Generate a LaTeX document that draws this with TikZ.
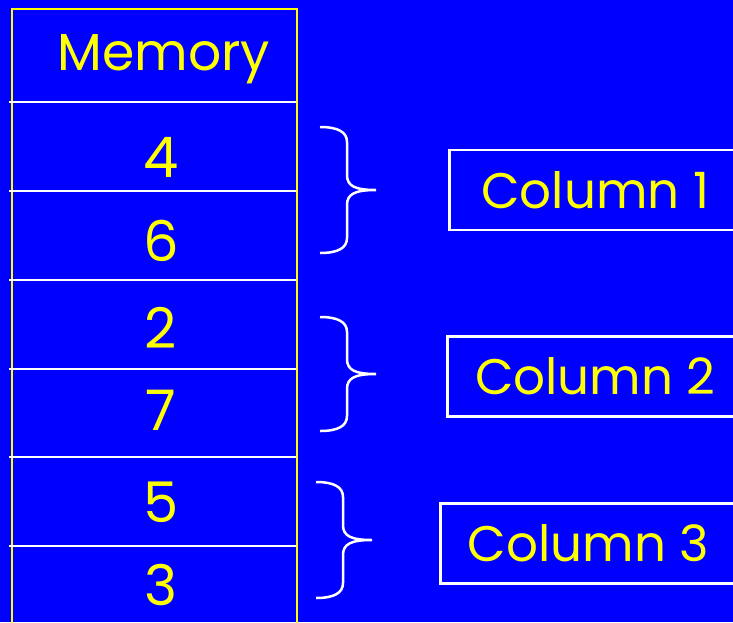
\documentclass[tikz,border=0pt]{standalone}
\usepackage{fontspec}
\setmainfont{Poppins}
\usetikzlibrary{positioning}
\definecolor{slideblue}{RGB}{0,0,255}
\definecolor{slideyellow}{RGB}{255,255,0}
\tikzset{
  val/.style={text=slideyellow,anchor=base,font=\fontsize{56}{60}\selectfont},
  title/.style={text=slideyellow,anchor=base,font=\fontsize{52}{56}\selectfont},
  colbox/.style={draw=white,line width=2.5pt,text=slideyellow,anchor=west,
    minimum height=80pt,inner sep=0pt,font=\fontsize{50}{54}\selectfont},
  cellline/.style={white,line width=2pt},
  bracket/.style={white,line width=2.5pt}
}
\begin{document}
\begin{tikzpicture}[x=1pt,y=-1pt]
  \useasboundingbox (0,0) rectangle (733,622);
  \clip (0,0) rectangle (733,622);
  \fill[slideblue] (0,0) rectangle (733,622);

  % Memory column
  \draw[slideyellow,line width=2pt] (12,640) -- (12,9) -- (297,9) -- (297,640);
  \foreach \y in {102,191,280,369,457,546} {
    \draw[cellline] (9,\y) -- (296,\y);
  }

  % Values
  \node[title] (mem) at (164,70) {Memory};
  \node[val] (v1) at (161,177) {4};
  \node[val] (v2) at (161,261) {6};
  \node[val] (v3) at (161,348) {2};
  \node[val] (v4) at (161,430) {7};
  \node[val] (v5) at (161,522) {5};
  \node[val] (v6) at (161,605) {3};

  % Braces
  \foreach \yt/\yb/\xl/\xt in {127/253/320/376, 317/431/320/376, 482/598/316/372} {
    \pgfmathsetmacro{\xm}{\xl+27}
    \pgfmathsetmacro{\ym}{(\yt+\yb)/2}
    \draw[bracket] (\xl,\yt) .. controls ({\xl+18},\yt) and (\xm,{\yt+5}) .. (\xm,{\yt+15})
      -- (\xm,{\ym-15}) .. controls (\xm,{\ym-4}) and ({\xm+8},\ym) .. (\xt,\ym)
      .. controls ({\xm+8},\ym) and (\xm,{\ym+4}) .. (\xm,{\ym+15})
      -- (\xm,{\yb-15}) .. controls (\xm,{\yb-5}) and ({\xl+18},\yb) .. (\xl,\yb);
  }

  % Column labels
  \node[colbox,minimum width=292pt] (col1) at (448,190) {Column 1};
  \node[colbox,minimum width=296pt] (col2) at (446,376.5) {Column 2};
  \node[colbox,minimum width=296pt] (col3) at (439,543.5) {Column 3};
\end{tikzpicture}
\end{document}
